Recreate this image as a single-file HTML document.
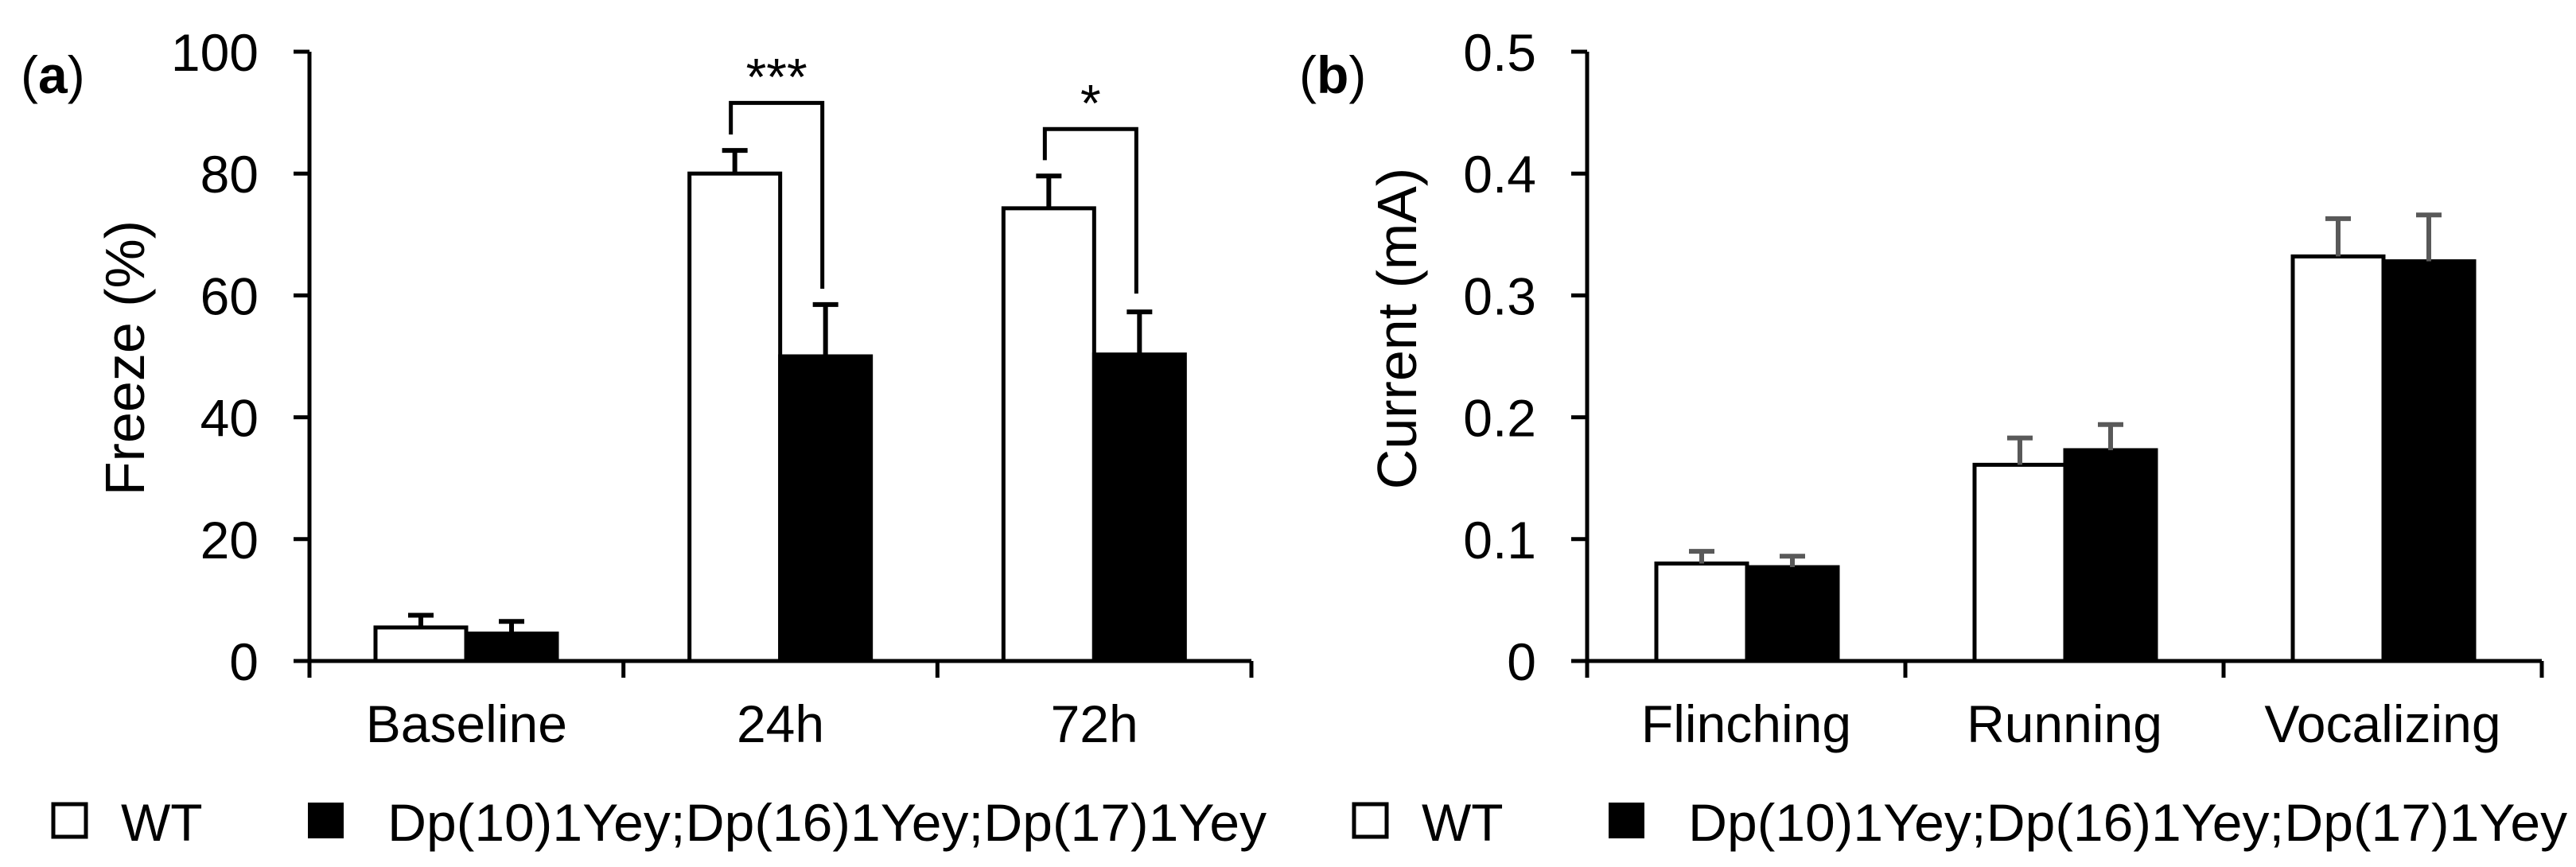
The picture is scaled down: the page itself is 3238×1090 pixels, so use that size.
<!DOCTYPE html>
<html><head><meta charset="utf-8"><style>
html,body{margin:0;padding:0;background:#fff;}
svg{display:block;font-family:"Liberation Sans",Arial,sans-serif;}
</style></head><body>
<svg id="chart" width="3238" height="1090" viewBox="0 0 3238 1090" xmlns="http://www.w3.org/2000/svg"></svg>
<script>
// Panel (a) data
const catsA = ["Baseline", "24h", "72h"];
const wtA = [5.5, 80, 74.3];
const wtErrA = [7.5, 83.8, 79.6];
const dpA = [4.5, 50, 50.3];
const dpErrA = [6.5, 58.5, 57.3];
const ticksA = [0, 20, 40, 60, 80, 100];
const tickLabelsA = ["0", "20", "40", "60", "80", "100"];
// significance brackets: [category, top value, left-leg bottom, right-leg bottom, label]
const bracketCats = [1, 2];
const bracketTop = [91.6, 87.3];
const bracketLeftEnd = [86.4, 82.2];
const bracketRightEnd = [61.1, 60.3];
const bracketLabels = ["***", "*"];
// Panel (b) data
const catsB = ["Flinching", "Running", "Vocalizing"];
const wtB = [0.080, 0.161, 0.332];
const wtErrB = [0.090, 0.183, 0.363];
const dpB = [0.077, 0.173, 0.328];
const dpErrB = [0.086, 0.194, 0.366];
const ticksB = [0, 0.1, 0.2, 0.3, 0.4, 0.5];
const tickLabelsB = ["0", "0.1", "0.2", "0.3", "0.4", "0.5"];

const NS = "http://www.w3.org/2000/svg";
const svg = document.getElementById("chart");
function el(tag, attrs, parent, text) {
  const e = document.createElementNS(NS, tag);
  for (const k in attrs) e.setAttribute(k, attrs[k]);
  if (text !== undefined) e.textContent = text;
  (parent || svg).appendChild(e);
  return e;
}
const Y0 = 831, Y1 = 65;

function panel(cfg) {
  const g = el("g", {});
  
  
  const yS = v => Y0 - (v / cfg.max) * (Y0 - Y1);
  const groupW = (cfg.xEnd - cfg.ax) / cfg.cats.length;
  const xS = i => cfg.ax + groupW * i;
  const pl = el("text", {x: cfg.labelX, y: 117, "font-size": 66}, g);
  
  
  el("tspan", {}, pl, "(");
  el("tspan", {"font-weight": "bold"}, pl, cfg.letter);
  el("tspan", {}, pl, ")");
  const yt = el("text", {transform: `translate(${cfg.titleX},${cfg.titleY}) rotate(-90)`, "text-anchor": "middle", "font-size": 70}, g, cfg.title);
  
  
  for (let i = 0; i < cfg.cats.length; i++) {
    const gx = xS(i) + cfg.off;
    const b1 = el("rect", {x: gx, y: yS(cfg.wt[i]), width: 114, height: Y0 - yS(cfg.wt[i]), fill: "#fff", stroke: "#000", "stroke-width": 5}, g);
    
    
    const b2 = el("rect", {x: gx + 114, y: yS(cfg.dp[i]), width: 114, height: Y0 - yS(cfg.dp[i]), fill: "#000", stroke: "#000", "stroke-width": 5}, g);
    
    
    [[gx + 57, cfg.wt[i], cfg.wtErr[i]], [gx + 171, cfg.dp[i], cfg.dpErr[i]]].forEach(([cx, v, e]) => {
      const eb = el("path", {d: `M${cx},${yS(v)}V${yS(e)}M${cx - 16},${yS(e)}H${cx + 16}`, stroke: cfg.errColor, "stroke-width": 6, fill: "none"}, g);
      
      
    });
    const cl = el("text", {x: xS(i) + groupW / 2, y: 933, "text-anchor": "middle", "font-size": 66}, g, cfg.cats[i]);
    
    
  }
  let d = `M${cfg.ax},${Y1}V${Y0}M${cfg.ax},${Y0}H${cfg.xEnd}`;
  cfg.ticks.forEach(t => { d += `M${cfg.ax - 20},${yS(t)}H${cfg.ax}`; });
  for (let i = 0; i <= cfg.cats.length; i++) d += `M${xS(i)},${Y0}V${Y0 + 21}`;
  const ax = el("path", {d: d, stroke: "#000", "stroke-width": 5, fill: "none"}, g);
  
  
  cfg.ticks.forEach((t, k) => {
    const tl = el("text", {x: cfg.ax - 64, y: yS(t) + 24, "text-anchor": "end", "font-size": 66}, g, cfg.tickLabels[k]);
    
    
  });
  const lx = cfg.legendX;
  const l1 = el("rect", {x: lx + 2, y: 1011, width: 41, height: 41, fill: "#fff", stroke: "#000", "stroke-width": 5}, g);
  
  
  const lt1 = el("text", {x: lx + 87, y: 1057, "font-size": 66}, g, "WT");
  
  
  const l2 = el("rect", {x: lx + 322, y: 1009, width: 45, height: 45, fill: "#000"}, g);
  
  
  const lt2 = el("text", {x: lx + 422, y: 1057, "font-size": 66, textLength: 1105, lengthAdjust: "spacingAndGlyphs"}, g, "Dp(10)1Yey;Dp(16)1Yey;Dp(17)1Yey");
  
  
  return {yS, xS, g};
}

const A = panel({name: "panel-a", letter: "a", labelX: 26, ax: 389, xEnd: 1573, off: 83, max: 100,
  cats: catsA, wt: wtA, wtErr: wtErrA, dp: dpA, dpErr: dpErrA, ticks: ticksA, tickLabels: tickLabelsA,
  title: "Freeze (%)", titleX: 181, titleY: 450, errColor: "#000", legendX: 65});
bracketCats.forEach((c, k) => {
  const gx = A.xS(c) + 83;
  const lx = gx + 52, rx = gx + 167;
  const br = el("path", {d: `M${lx},${A.yS(bracketLeftEnd[k])}V${A.yS(bracketTop[k])}H${rx}V${A.yS(bracketRightEnd[k])}`, stroke: "#000", "stroke-width": 5, fill: "none"}, A.g);
  
  
  const st = el("text", {x: (lx + rx) / 2, y: A.yS(bracketTop[k]) - 10, "text-anchor": "middle", "font-size": 66}, A.g, bracketLabels[k]);
  
  
});

panel({name: "panel-b", letter: "b", labelX: 1633, ax: 1995, xEnd: 3195, off: 87, max: 0.5,
  cats: catsB, wt: wtB, wtErr: wtErrB, dp: dpB, dpErr: dpErrB, ticks: ticksB, tickLabels: tickLabelsB,
  title: "Current (mA)", titleX: 1780, titleY: 413, errColor: "#595959", legendX: 1700});
</script>
</body></html>
